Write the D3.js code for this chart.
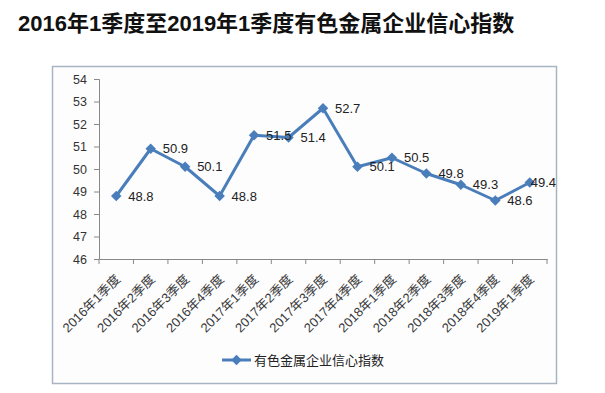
<!DOCTYPE html>
<html>
<head>
<meta charset="utf-8">
<script src="https://cdn.jsdelivr.net/npm/d3@7"></script>
<style>
  body { margin: 0; background: #fff; }
  text { font-family: "Liberation Sans", "Noto Sans CJK SC", sans-serif; }
</style>
</head>
<body>
<svg id="chart" width="605" height="393"></svg>
<script>
const quarters = ['2016年1季度', '2016年2季度', '2016年3季度', '2016年4季度',
  '2017年1季度', '2017年2季度', '2017年3季度', '2017年4季度',
  '2018年1季度', '2018年2季度', '2018年3季度', '2018年4季度', '2019年1季度'];
const indexValues = [48.8, 50.9, 50.1, 48.8, 51.5, 51.4, 52.7, 50.1, 50.5, 49.8, 49.3, 48.6, 49.4];
const yTicks = [46, 47, 48, 49, 50, 51, 52, 53, 54];
const seriesName = '有色金属企业信心指数';
const title = '2016年1季度至2019年1季度有色金属企业信心指数';

const svg = d3.select('#chart');
const blue = '#4a7ebb';
const cjk = '"Noto Sans CJK SC", sans-serif';
const frameRight = 556;

svg.append('text')
  .attr('x', 18).attr('y', 31)
  .attr('font-family', cjk)
  .attr('font-size', 22).attr('font-weight', 'bold')
  .attr('fill', '#111')
  .text(title);

// chart frame
svg.append('rect')
  .attr('x', 52.5).attr('y', 66.5).attr('width', 504).attr('height', 317)
  .attr('fill', '#fdfdfe').attr('stroke', '#a9b4c2').attr('stroke-width', 1.5);

const x = d3.scaleBand().domain(quarters).range([99, 547]);
const y = d3.scaleLinear().domain([46, 54]).range([259, 79]);

const yAxis = svg.append('g')
  .attr('transform', 'translate(99,0)')
  .call(d3.axisLeft(y).tickValues(yTicks).tickSize(5).tickPadding(7));
yAxis.selectAll('text').attr('font-size', 12.5).attr('fill', '#333');

const xAxis = svg.append('g')
  .attr('transform', 'translate(0,259)')
  .call(d3.axisBottom(x).tickSize(0).tickFormat(''));
xAxis.selectAll('.tick').remove();
// boundary tick marks between categories
svg.append('g').selectAll('line')
  .data(d3.range(quarters.length + 1))
  .join('line')
  .attr('x1', i => 99 + i * x.step()).attr('x2', i => 99 + i * x.step())
  .attr('y1', 259).attr('y2', 264)
  .attr('stroke', '#888');

svg.selectAll('.domain').attr('stroke', '#888');
svg.selectAll('.tick line').attr('stroke', '#888');

svg.append('g').selectAll('text')
  .data(quarters)
  .join('text')
  .attr('transform', d => `translate(${x(d) + x.bandwidth() / 2 + 5},${280}) rotate(-45)`)
  .attr('text-anchor', 'end')
  .attr('font-family', cjk)
  .attr('font-size', 13)
  .attr('fill', '#3a3a3a')
  .text(d => d);

const cx = (d, i) => x(quarters[i]) + x.bandwidth() / 2;

svg.append('path')
  .datum(indexValues)
  .attr('d', d3.line().x(cx).y(d => y(d)))
  .attr('fill', 'none').attr('stroke', blue).attr('stroke-width', 3)
  .attr('stroke-linejoin', 'round');

const diamond = d3.symbol().type(d3.symbolDiamond2).size(70);
svg.append('g').selectAll('path')
  .data(indexValues)
  .join('path')
  .attr('transform', (d, i) => `translate(${cx(d, i)},${y(d)})`)
  .attr('d', diamond)
  .attr('fill', blue);

svg.append('g').selectAll('text')
  .data(indexValues)
  .join('text')
  .attr('x', (d, i) => cx(d, i) + 12)
  .attr('y', d => y(d))
  .attr('dy', '0.35em')
  .attr('font-size', 13)
  .attr('fill', '#222')
  .text(d => d.toFixed(1))
  .each(function () {
    // keep labels inside the chart frame, like Excel does
    const w = this.getComputedTextLength();
    const x0 = +this.getAttribute('x');
    if (x0 + w > frameRight) this.setAttribute('x', frameRight - w);
  });

// legend
const legend = svg.append('g').attr('transform', 'translate(222,360)');
legend.append('line').attr('x1', 0).attr('x2', 29).attr('stroke', blue).attr('stroke-width', 3);
legend.append('path').attr('transform', 'translate(14.5,0)').attr('d', diamond).attr('fill', blue);
legend.append('text')
  .attr('x', 32).attr('dy', '0.35em')
  .attr('font-family', cjk).attr('font-size', 13).attr('fill', '#222')
  .text(seriesName);
</script>
</body>
</html>
